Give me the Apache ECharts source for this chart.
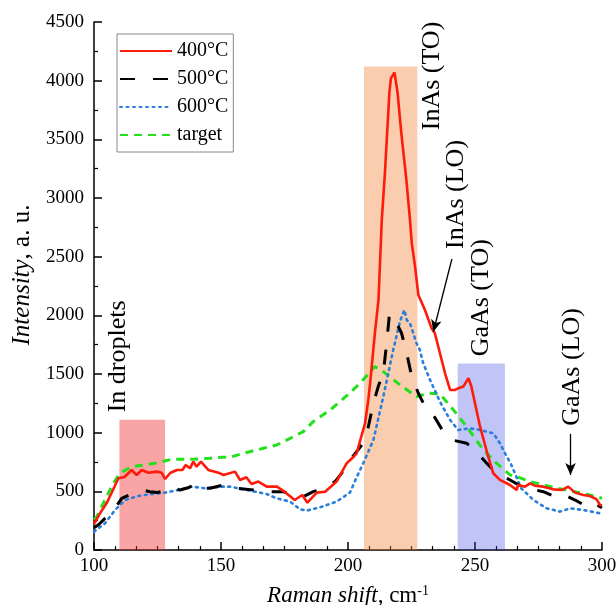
<!DOCTYPE html>
<html>
<head>
<meta charset="utf-8">
<script src="https://cdn.jsdelivr.net/npm/echarts@6/dist/echarts.min.js"></script>
<style>
  html, body { margin: 0; padding: 0; background: #fff; }
  #chart { width: 616px; height: 605px; }
</style>
</head>
<body>
<div id="chart"></div>
<script>
// spectra, [Raman shift, intensity]
const s400 = [[100,220],[102,300],[105,400],[107,490],[109.6,611],[112,622],[114.8,682],[116.8,639],[118.8,682],[121.4,659],[124.7,668],[126.6,659],[128,605],[130,656],[132.6,682],[134.8,682],[136.1,725],[137.8,696],[139.1,753],[140.4,710],[142.1,753],[145,682],[149,659],[151,639],[155.5,668],[157.5,597],[160,620],[162,563],[164.7,583],[168,540],[172,540],[175,497],[179,426],[182,469],[184,403],[187.7,489],[191,497],[195.5,583],[199.5,740],[202,790],[203.4,824],[205,950],[206.7,1080],[208,1279],[208.7,1421],[210.6,1850],[212,2131],[213.3,2813],[214.5,3200],[216.3,3900],[216.9,4020],[218.3,4070],[219.5,3900],[221,3550],[223,3150],[224.4,2813],[225.1,2615],[226.4,2415],[227.7,2174],[230.3,2046],[232.9,1890],[234.2,1847],[236.2,1677],[238.2,1506],[240.2,1364],[242.1,1364],[243.4,1378],[245.4,1393],[247.4,1464],[248.5,1400],[252,1051],[255.2,795],[257.2,654],[259.8,597],[263.8,554],[266.4,511],[267,554],[269.7,540],[271.7,568],[273.6,548],[276.9,540],[280.8,517],[284.1,511],[286.7,540],[289.4,489],[292.6,469],[295.3,460],[297.9,432],[299.2,384],[300,380]];
const s500 = [[100,190],[102,220],[104.3,270],[106.5,320],[108.9,375],[110.9,440],[114,470],[117.4,489],[120.1,506],[122,497],[125,490],[129.3,511],[131.2,532],[133.9,511],[137,530],[141.1,574],[143.7,526],[145.7,526],[150.9,554],[153.5,546],[156.2,526],[162.7,511],[168,497],[174.5,497],[177.8,469],[181.1,440],[186.3,497],[190.3,526],[194.9,583],[199.5,710],[202,800],[206,910],[208,1050],[210,1250],[212,1400],[213.9,1506],[215.2,1762],[216.3,2003],[217.5,2010],[218.5,1961],[221.1,1847],[223.1,1677],[225.1,1478],[227.7,1336],[231,1194],[233.6,1151],[237.5,1009],[240.8,938],[246.7,910],[250.6,838],[254.6,739],[258.5,654],[263.8,597],[268.4,540],[272,520],[276.9,497],[281.5,454],[285,470],[289.4,426],[294,369],[297,400],[299.2,369],[300,360]];
const s600 = [[100,156],[104.3,227],[108.3,341],[112.2,426],[117.4,460],[122.7,477],[128,489],[133.2,511],[138.5,540],[143.7,526],[150.3,540],[153.5,540],[161.4,506],[168,477],[171.9,440],[177.2,412],[181.1,347],[183.7,335],[189,364],[195.5,412],[200.8,490],[203,600],[206,739],[210,938],[213.9,1307],[217.8,1705],[220.5,1950],[222.2,2046],[223.1,1961],[224.4,1932],[227,1762],[228.3,1705],[229.6,1592],[232.3,1450],[236.2,1264],[240.2,1108],[243.4,1023],[248,1037],[252,1023],[257.2,995],[259.8,910],[262.5,795],[264,740],[266,640],[268,530],[273,426],[278.2,355],[283.5,327],[287.4,355],[292.6,341],[299.2,313],[300,320]];
const sTarget = [[100,260],[101,280],[104.3,426],[107.6,568],[110.2,654],[114.8,710],[120.1,725],[125.3,745],[130.6,773],[138.5,773],[145.7,782],[150.3,790],[153.5,790],[158.8,824],[166.7,867],[171.9,895],[177.2,952],[182.4,1009],[186.3,1094],[193,1194],[200.8,1340],[204.7,1421],[208.7,1517],[210.5,1563],[213.9,1520],[220.5,1407],[227,1307],[231.6,1336],[236.2,1330],[241.5,1194],[246.7,1051],[253.3,853],[258.5,739],[263.8,640],[266.4,625],[271.7,583],[282.2,526],[292.6,483],[297.9,455],[300,440]];

const seriesNames = ['400°C', '500°C', '600°C', 'target'];

// shaded bands: [xFrom, xTo, top]
const bands = [[110, 128, 1110], [206.3, 227.3, 4120], [243.2, 261.8, 1590]];
const bandColors = ['rgba(240,40,40,0.42)', 'rgba(240,130,50,0.4)', 'rgba(50,60,230,0.3)'];

// annotations: label, x, y (data coords of text centre)
const annoText = ['In droplets', 'InAs (TO)', 'InAs (LO)', 'GaAs (TO)', 'GaAs (LO)'];
const annoX = [109.6, 233.3, 242.4, 252.3, 288.4];
const annoY = [1650, 4040, 3030, 2150, 1560];

// arrows: [x1, y1, x2, y2]
const arrows = [[240.9, 2480, 233.6, 1860], [287.6, 990, 287.6, 640]];

const FONT = '"Liberation Serif", "Times New Roman", serif';

const chart = echarts.init(document.getElementById('chart'));

const option = {
  animation: false,
  backgroundColor: '#fff',
  textStyle: { fontFamily: FONT, color: '#000' },
  grid: { left: 94, right: 14, top: 22, bottom: 55, outerBoundsMode: 'none', containLabel: false },
  legend: {
    data: seriesNames,
    orient: 'vertical',
    left: 117,
    top: 34,
    padding: [7, 5, 7, 2],
    borderColor: '#888',
    borderWidth: 1,
    itemWidth: 52,
    itemHeight: 14,
    itemGap: 8,
    itemStyle: { opacity: 0 },
    textStyle: { fontFamily: FONT, fontSize: 20, color: '#000' }
  },
  xAxis: {
    type: 'value',
    min: 100, max: 300, interval: 50,
    name: '{i|Raman shift}, cm{s|-1}',
    nameLocation: 'middle',
    nameGap: 34,
    nameTextStyle: {
      fontFamily: FONT, fontSize: 23, color: '#000',
      rich: {
        i: { fontFamily: FONT, fontSize: 23, fontStyle: 'italic' },
        s: { fontFamily: FONT, fontSize: 14, verticalAlign: 'top', padding: [0, 0, 10, 0] }
      }
    },
    axisLine: { lineStyle: { color: '#000', width: 1.5 } },
    axisTick: { inside: true, length: 8, lineStyle: { color: '#000', width: 1.5 } },
    minorTick: { show: true, splitNumber: 6, length: 4, lineStyle: { color: '#000', width: 1.2 } },
    axisLabel: { fontFamily: FONT, fontSize: 19, color: '#000', margin: 7, formatter: v => String(v) },
    splitLine: { show: false }
  },
  yAxis: {
    type: 'value',
    min: 0, max: 4500, interval: 500,
    name: '{i|Intensity}, a. u.',
    nameLocation: 'middle',
    nameGap: 57,
    nameTextStyle: {
      fontFamily: FONT, fontSize: 25, color: '#000',
      padding: [0, 0, 0, 22],
      rich: { i: { fontFamily: FONT, fontSize: 25, fontStyle: 'italic' } }
    },
    axisLine: { show: true, lineStyle: { color: '#000', width: 1.5 } },
    axisTick: { show: true, inside: true, length: 8, lineStyle: { color: '#000', width: 1.5 } },
    minorTick: { show: true, splitNumber: 2, length: 4, lineStyle: { color: '#000', width: 1.2 } },
    axisLabel: { fontFamily: FONT, fontSize: 19, color: '#000', margin: 10, formatter: v => String(v) },
    splitLine: { show: false }
  },
  series: [
    {
      name: 'target', type: 'line', data: sTarget, symbol: 'none', z: 2,
      lineStyle: { color: '#22e01a', width: 3, type: [8, 6] }, itemStyle: { color: '#22e01a' }
    },
    {
      name: '600°C', type: 'line', data: s600, symbol: 'none', z: 2,
      lineStyle: { color: '#2a7fdc', width: 2.6, type: [2, 4.5], cap: 'round' }, itemStyle: { color: '#2a7fdc' }
    },
    {
      name: '500°C', type: 'line', data: s500, symbol: 'none', z: 2,
      lineStyle: { color: '#000', width: 3, type: [15, 18] }, itemStyle: { color: '#000' }
    },
    {
      name: '400°C', type: 'line', data: s400, symbol: 'none', z: 2,
      lineStyle: { color: '#ff1a0a', width: 2.6 }, itemStyle: { color: '#ff1a0a' }
    },
    {
      // overlay bands and arrows, drawn over the curves
      name: 'marks', type: 'line', data: [], z: 4, silent: true,
      markArea: {
        silent: true,
        data: bands.map((b, i) => [
          { xAxis: b[0], yAxis: 0, itemStyle: { color: bandColors[i] } },
          { xAxis: b[1], yAxis: b[2] }
        ])
      },
      markLine: {
        silent: true,
        symbol: ['none', 'arrow'],
        symbolSize: [8, 12],
        label: { show: false },
        lineStyle: { color: '#000', width: 1.3, type: 'solid' },
        data: arrows.map(a => [{ coord: [a[0], a[1]] }, { coord: [a[2], a[3]] }])
      }
    }
  ]
};

chart.setOption(option);

const texts = annoText.map((t, i) => {
  const p = chart.convertToPixel({ gridIndex: 0 }, [annoX[i], annoY[i]]);
  return {
    type: 'text',
    x: p[0], y: p[1],
    rotation: Math.PI / 2,
    style: {
      text: t, fontFamily: FONT, fontSize: 26, fill: '#000',
      align: 'center', verticalAlign: 'middle'
    },
    z: 10
  };
});
chart.setOption({ graphic: texts });
</script>
</body>
</html>
